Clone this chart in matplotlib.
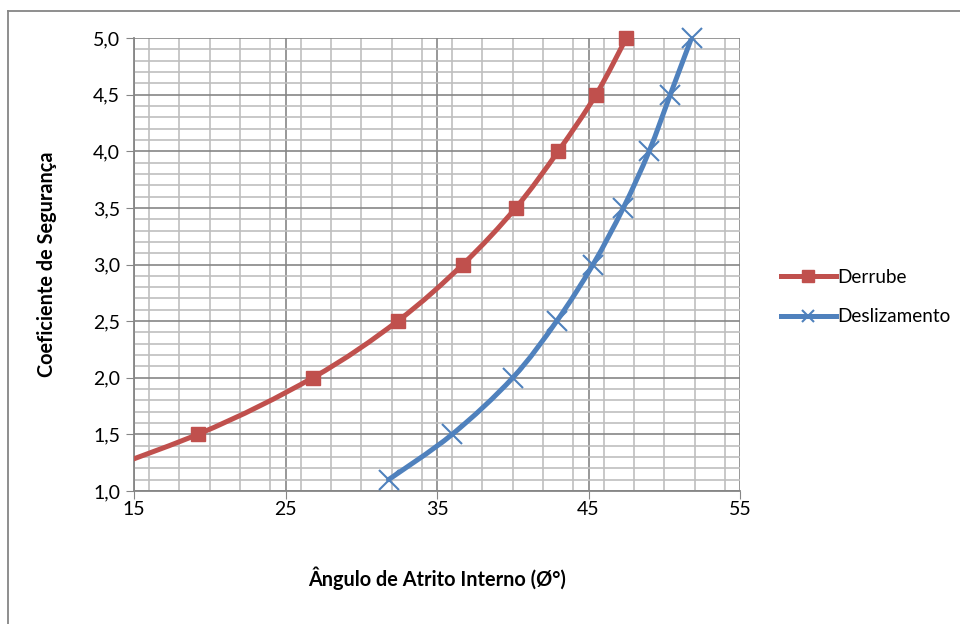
import numpy as np
import matplotlib
matplotlib.use("Agg")
import matplotlib.pyplot as plt
from matplotlib.path import Path
from matplotlib.patches import PathPatch
from matplotlib.lines import Line2D
from matplotlib.ticker import MultipleLocator, FuncFormatter

plt.rcParams['font.family'] = ['Lato', 'DejaVu Sans']

# data (first Derrube point lies left of the x range)
derrube_x = [9.0, 19.2, 26.8, 32.4, 36.7, 40.2, 43.0, 45.5, 47.5]
derrube_y = [1.0, 1.5, 2.0, 2.5, 3.0, 3.5, 4.0, 4.5, 5.0]
desliz_x = [31.8, 36.0, 40.0, 42.9, 45.3, 47.3, 49.0, 50.4, 51.8]
desliz_y = [1.1, 1.5, 2.0, 2.5, 3.0, 3.5, 4.0, 4.5, 5.0]

red = '#C0504D'
blue = '#4F81BD'


# excel-style smoothed line (bezier through the points)
def smooth_path(xs, ys):
    p = np.column_stack([xs, ys])
    n = len(p)
    verts = [p[0]]
    codes = [Path.MOVETO]
    for i in range(n - 1):
        p0 = p[i - 1] if i > 0 else p[i]
        p3 = p[i + 2] if i + 2 < n else p[i + 1]
        c1 = p[i] + (p[i + 1] - p0) / 6
        c2 = p[i + 1] - (p3 - p[i]) / 6
        verts += [c1, c2, p[i + 1]]
        codes += [Path.CURVE4] * 3
    return Path(verts, codes)


fig = plt.figure(figsize=(9.6, 6.24), dpi=100)
ax = fig.add_axes([134 / 960, 1 - 491 / 624, 606 / 960, 453 / 624])

for xs, ys, col in [(derrube_x, derrube_y, red), (desliz_x, desliz_y, blue)]:
    patch = PathPatch(smooth_path(xs, ys), facecolor='none', edgecolor=col,
                      lw=3.6, capstyle='round', joinstyle='round', zorder=3)
    ax.add_patch(patch)

# markers only for the points inside the axis range
ax.plot(derrube_x[1:], derrube_y[1:], ls='none', marker='s', ms=10, color=red,
        zorder=4, clip_on=False)
ax.plot(desliz_x, desliz_y, ls='none', marker='x', ms=15, mew=1.5, color=blue,
        zorder=4, clip_on=False)

ax.set_xlim(15, 55)
ax.set_ylim(1.0, 5.0)
ax.xaxis.set_minor_locator(MultipleLocator(2))
ax.yaxis.set_major_locator(MultipleLocator(0.5))
ax.yaxis.set_minor_locator(MultipleLocator(0.1))
ax.set_xticks([15, 25, 35, 45, 55])
ax.yaxis.set_major_formatter(FuncFormatter(lambda v, p: f'{v:.1f}'.replace('.', ',')))

ax.grid(which='major', color='#868686', lw=1.2, zorder=0)
ax.grid(which='minor', color='#BFBFBF', lw=1.2, zorder=0)
ax.set_axisbelow(True)
ax.tick_params(which='major', direction='out', length=6, color='#868686',
               labelsize=14, pad=1)
ax.tick_params(axis='y', which='major', pad=4)
ax.tick_params(which='minor', length=0)
for s in ['top', 'right']:
    ax.spines[s].set_visible(False)
for s in ['left', 'bottom']:
    ax.spines[s].set_color('#868686')
    ax.spines[s].set_linewidth(1.3)

ax.set_xlabel('Ângulo de Atrito Interno (Ø°)', fontsize=14.3, fontweight='bold', labelpad=35)
ax.set_ylabel('Coeficiente de Segurança', fontsize=14.3, fontweight='bold', labelpad=26)

handles = [
    Line2D([], [], color=red, lw=3.6, marker='s', ms=9),
    Line2D([], [], color=blue, lw=3.6, marker='x', ms=9, mew=1.5),
]
fig.legend(handles, ['Derrube', 'Deslizamento'], loc='center left',
           bbox_to_anchor=(764 / 960, 1 - 297 / 624), frameon=False,
           fontsize=13.6, handlelength=2.9, handletextpad=0.1, labelspacing=1.2)

# chart area border (cut at right and bottom)
fig.add_artist(Line2D([8 / 960, 8 / 960], [0, 1 - 11 / 624], color='#868686',
                      lw=1.3, transform=fig.transFigure))
fig.add_artist(Line2D([8 / 960, 1], [1 - 11 / 624, 1 - 11 / 624], color='#868686',
                      lw=1.3, transform=fig.transFigure))

fig.savefig('out.png', dpi=100)
